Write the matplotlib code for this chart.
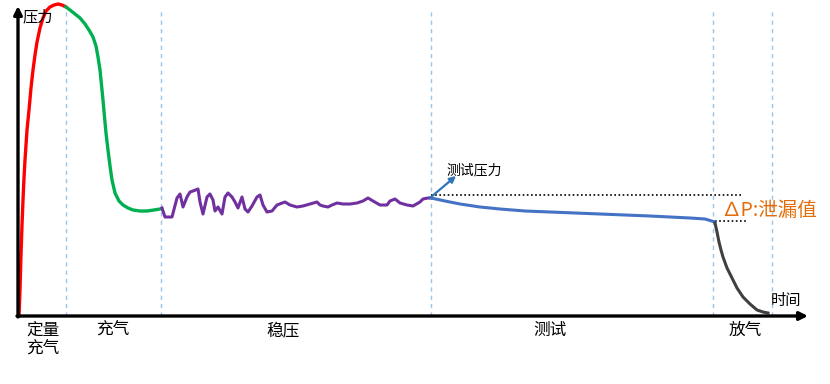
import matplotlib.pyplot as plt

plt.rcParams['font.family'] = ['Noto Sans CJK SC', 'DejaVu Sans']

# 时间 (x) 与 压力 (y) —— 各阶段曲线取点
t_dingliang = [19, 20, 21, 22, 23, 24, 25, 27, 29, 31, 33, 35, 37, 40, 43, 46, 50, 54, 58, 62, 66]
p_dingliang = [0, 26, 61, 91, 116, 138, 156, 186, 206, 228, 246, 261, 274, 288, 298, 305,
               309, 311, 312, 311, 309]

t_chongqi = [66, 70, 75, 80, 85, 89, 93, 96, 98, 100, 101.5, 103, 104.5, 106, 108, 110,
             112, 115, 119, 123, 128, 133, 140, 147, 154, 160]
p_chongqi = [309, 306, 302, 298, 292, 286, 279, 270, 259, 246, 231, 216, 199, 183, 166, 150,
             136, 123, 115, 111, 108, 106, 105, 105, 106, 107]

t_wenya = [162, 165, 172, 177, 180, 183, 187, 190, 193, 198, 200, 203, 207, 210, 213, 215,
           218, 222, 225, 228, 232, 235, 238, 242, 245, 248, 252, 257, 260, 263, 267, 272,
           277, 285, 290, 297, 303, 310, 317, 320, 323, 328, 332, 337, 343, 350, 357, 363,
           368, 373, 380, 387, 390, 395, 400, 407, 413, 420, 423, 428, 431]
p_wenya = [108, 99, 99, 118, 122, 109, 119, 124, 125, 127, 114, 102, 119, 122, 116, 105,
           109, 102, 119, 123, 119, 114, 108, 119, 107, 104, 110, 119, 121, 111, 104, 105,
           111, 114, 111, 109, 110, 112, 114, 111, 110, 109, 111, 113, 112, 112, 113, 115,
           118, 115, 111, 111, 115, 117, 113, 111, 110, 114, 117, 118, 118]

t_ceshi = [431, 445, 460, 480, 500, 525, 550, 600, 650, 690, 705, 715]
p_ceshi = [118, 115, 112, 109, 107, 105, 104, 102, 100, 98, 97, 94]

t_fangqi = [715, 717, 719, 721, 723, 727, 732, 737, 743, 750, 757, 763, 768]
p_fangqi = [93, 84, 74, 66, 59, 48, 38, 28, 19, 12, 6, 4, 3]

phase_bounds = [66, 161, 431, 713, 772]
phase_names = ['定量\n充气', '充气', '稳压', '测试', '放气']
phase_x = [43, 113, 283, 550, 745]

fig = plt.figure(figsize=(8.3, 3.84), dpi=100)
ax = fig.add_axes([0, 0, 1, 1])
ax.set_xlim(0, 830)
ax.set_ylim(-68, 316)
ax.axis('off')

# 阶段分隔虚线
for b in phase_bounds:
    ax.plot([b, b], [0, 306], color='#9DC3E6', lw=1, ls=(0, (3, 3)), zorder=1)

# 曲线
ax.plot(t_dingliang, p_dingliang, color='#FF0000', lw=2.4, zorder=3, solid_joinstyle='round')
ax.plot(t_chongqi, p_chongqi, color='#00B050', lw=2.4, zorder=3, solid_joinstyle='round')
ax.plot(t_wenya, p_wenya, color='#7030A0', lw=2.2, zorder=3, solid_joinstyle='round')
ax.plot(t_ceshi, p_ceshi, color='#4472C4', lw=2.2, zorder=3, solid_joinstyle='round')
ax.plot(t_fangqi, p_fangqi, color='#404040', lw=2.2, zorder=3, solid_joinstyle='round')

# 泄漏值参考线
ax.plot([431, 743], [121, 121], color='black', lw=1.2, ls=(0, (1, 1.5)), zorder=2)
ax.plot([715, 748], [95, 95], color='black', lw=1.2, ls=(0, (1, 1.5)), zorder=2)

# 坐标轴箭头
ax.annotate('', xy=(18, 310), xytext=(18, -1),
            arrowprops=dict(arrowstyle='-|>', color='black', lw=2.4, mutation_scale=12,
                            shrinkA=0, shrinkB=0))
ax.annotate('', xy=(808, 0), xytext=(17, 0),
            arrowprops=dict(arrowstyle='-|>', color='black', lw=2.4, mutation_scale=12,
                            shrinkA=0, shrinkB=0))

ax.text(23, 299, '压力', fontsize=11, va='center', ha='left')
ax.text(771, 16, '时间', fontsize=11, va='center', ha='left')

# 测试压力
ax.annotate('', xy=(456, 140), xytext=(431, 119),
            arrowprops=dict(arrowstyle='-|>', color='#2E75B6', lw=1.6, mutation_scale=9,
                            shrinkA=0, shrinkB=0))
ax.text(446, 146, '测试压力', fontsize=10, va='center', ha='left')

ax.text(721, 106, '∆P:泄漏值', fontsize=14, color='#E46C0A', va='center', ha='left')

for x, name in zip(phase_x, phase_names):
    ax.text(x, -6, name, fontsize=12, ha='center', va='top', linespacing=1.15)

fig.savefig('out.png', dpi=100, facecolor='white')
